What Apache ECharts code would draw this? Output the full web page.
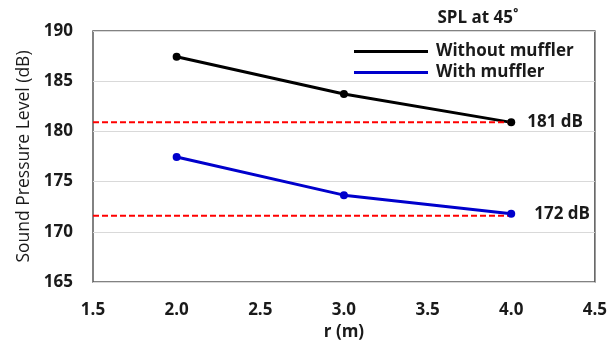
<!DOCTYPE html>
<html>
<head>
<meta charset="utf-8">
<script src="https://cdn.jsdelivr.net/npm/echarts@6/dist/echarts.min.js"></script>
<style>html,body{margin:0;padding:0;background:#fff}#c{width:610px;height:349px}</style>
</head>
<body>
<div id="c"></div>
<script>
const radii = [2.0, 3.0, 4.0];
const withoutMuffler = [187.43, 183.73, 180.9];
const withMuffler = [177.45, 173.65, 171.8];
const refLevels = [180.9, 171.6];
const refRange = [1.5, 4.0];
const endLabels = ['181 dB', '172 dB'];
const xTicks = [1.5, 2.0, 2.5, 3.0, 3.5, 4.0, 4.5];
const yTicks = [165, 170, 175, 180, 185, 190];
const seriesNames = ['Without muffler', 'With muffler'];
const titleText = 'SPL at 45˚';

const FONT = '"Open Sans", "Noto Sans", sans-serif';
const TXT = '#1a1a1a';

function buildData(vals, labelText, dist) {
  return vals.map((v, i) => {
    const item = { value: [radii[i], v] };
    if (i === vals.length - 1) {
      item.label = { show: true, position: 'right', distance: dist, formatter: labelText,
        fontFamily: FONT, fontSize: 17, fontWeight: 'bold', color: TXT };
    }
    return item;
  });
}

const chart = echarts.init(document.getElementById('c'), null, { renderer: 'canvas' });
chart.setOption({
  animation: false,
  backgroundColor: '#fff',
  title: {
    text: titleText, left: 473, top: 5, textAlign: 'center',
    textStyle: { fontFamily: FONT, fontSize: 17, fontWeight: 'bold', color: TXT }
  },
  legend: {
    orient: 'vertical', left: 349, top: 38, itemGap: 4,
    itemWidth: 74, itemHeight: 3, icon: 'rect',
    data: seriesNames,
    textStyle: { fontFamily: FONT, fontSize: 17, fontWeight: 'bold', color: TXT, padding: [0, 0, 0, 3] }
  },
  grid: { left: 93, top: 31, width: 508, height: 251, show: true, borderColor: '#595959', borderWidth: 1.5, containLabel: false },
  xAxis: {
    type: 'value', min: xTicks[0], max: xTicks[xTicks.length - 1], interval: 0.5,
    name: 'r (m)', nameLocation: 'middle', nameGap: 39,
    nameTextStyle: { fontFamily: FONT, fontSize: 17, fontWeight: 'bold', color: TXT },
    axisLine: { show: false }, axisTick: { show: false }, splitLine: { show: false },
    axisLabel: { margin: 20, formatter: v => v.toFixed(1), fontFamily: FONT, fontSize: 17, fontWeight: 'bold', color: TXT }
  },
  yAxis: {
    type: 'value', min: yTicks[0], max: yTicks[yTicks.length - 1], interval: 5,
    name: 'Sound Pressure Level (dB)', nameLocation: 'middle', nameGap: 60, nameRotate: 90,
    nameTextStyle: { fontFamily: FONT, fontSize: 17.5, color: TXT },
    axisLine: { show: false }, axisTick: { show: false },
    splitLine: { show: true, lineStyle: { color: '#d9d9d9', width: 1 } },
    axisLabel: { margin: 20, fontFamily: FONT, fontSize: 17, fontWeight: 'bold', color: TXT }
  },
  series: [
    { name: seriesNames[0], type: 'line', data: buildData(withoutMuffler, endLabels[0], 12),
      symbol: 'circle', symbolSize: 8, lineStyle: { color: '#000', width: 3 }, itemStyle: { color: '#000' } },
    { name: seriesNames[1], type: 'line', data: buildData(withMuffler, endLabels[1], 19),
      symbol: 'circle', symbolSize: 8, lineStyle: { color: '#0000cc', width: 3 }, itemStyle: { color: '#0000cc' } },
    { name: 'ref1', type: 'line', data: refRange.map(x => [x, refLevels[0]]), symbol: 'none', silent: true,
      lineStyle: { color: '#ff0000', width: 2, type: [6, 3] } },
    { name: 'ref2', type: 'line', data: refRange.map(x => [x, refLevels[1]]), symbol: 'none', silent: true,
      lineStyle: { color: '#ff0000', width: 2, type: [6, 3] } }
  ]
});
</script>
</body>
</html>
